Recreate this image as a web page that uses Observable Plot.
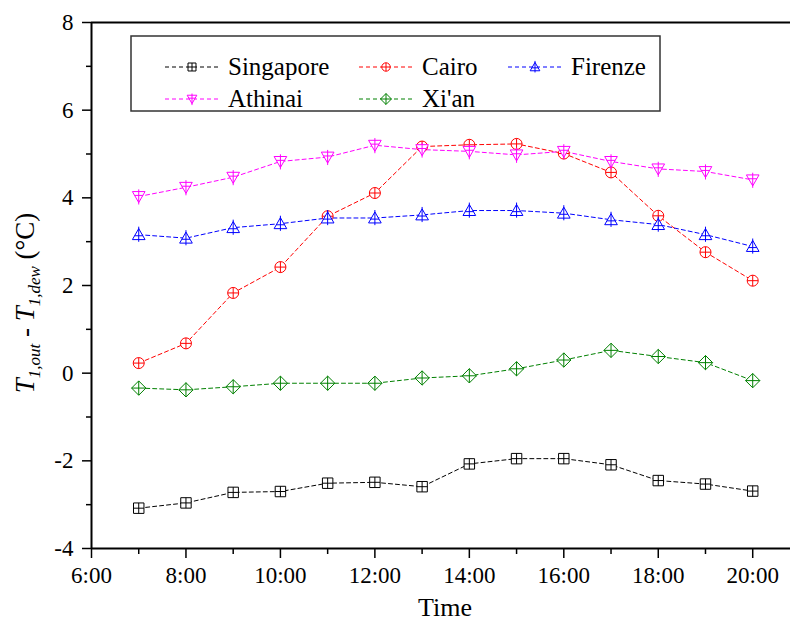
<!DOCTYPE html>
<html><head><meta charset="utf-8">
<script src="https://cdn.jsdelivr.net/npm/d3@7"></script>
<script src="https://cdn.jsdelivr.net/npm/@observablehq/plot@0.6"></script>
<style>
body{margin:0;background:#fff;}
#wrap{width:790px;height:622px;}
</style></head><body><div id="wrap"></div>
<script>
// ---- data ----
const hours = [7, 8, 9, 10, 11, 12, 13, 14, 15, 16, 17, 18, 19, 20];
const singapore = [-3.08, -2.96, -2.72, -2.70, -2.51, -2.49, -2.59, -2.07, -1.95, -1.95, -2.09, -2.45, -2.53, -2.69];
const cairo     = [0.23, 0.68, 1.83, 2.42, 3.58, 4.11, 5.17, 5.21, 5.23, 5.01, 4.58, 3.59, 2.76, 2.11];
const firenze   = [3.16, 3.08, 3.32, 3.41, 3.54, 3.54, 3.61, 3.71, 3.71, 3.65, 3.50, 3.39, 3.16, 2.89];
const athinai   = [4.03, 4.24, 4.47, 4.83, 4.93, 5.20, 5.10, 5.06, 4.98, 5.06, 4.83, 4.66, 4.60, 4.41];
const xian      = [-0.34, -0.38, -0.31, -0.23, -0.23, -0.23, -0.11, -0.06, 0.10, 0.30, 0.52, 0.38, 0.24, -0.17];
const seriesNames = ["Singapore", "Cairo", "Firenze", "Athinai", "Xi'an"];
const seriesColors = ["#000000", "#ff0000", "#0000ff", "#ff00ff", "#008000"];
const xMajorTicks = [6, 8, 10, 12, 14, 16, 18, 20];
const xMinorTicks = [7, 9, 11, 13, 15, 17, 19];
const yMajorTicks = [-4, -2, 0, 2, 4, 6, 8];
const yMinorTicks = [-3, -1, 1, 3, 5, 7];
const xDomain = [6, 20.8];
const yDomain = [-4, 8];

// ---- custom symbols ----
const R = s => Math.sqrt(s / Math.PI);
const symSquare = {draw(c, s){const r=R(s), h=r*0.95;
  c.moveTo(-h,-h);c.lineTo(h,-h);c.lineTo(h,h);c.lineTo(-h,h);c.closePath();
  c.moveTo(0,-h);c.lineTo(0,h);c.moveTo(-h,0);c.lineTo(h,0);}};
const symCircle = {draw(c, s){const r=R(s);
  c.moveTo(r,0);c.arc(0,0,r,0,2*Math.PI);c.closePath();
  c.moveTo(0,-r);c.lineTo(0,r);c.moveTo(-r,0);c.lineTo(r,0);}};
const symTriUp = {draw(c, s){const r=R(s);
  c.moveTo(0,-1.1*r);c.lineTo(1.15*r,0.9*r);c.lineTo(-1.15*r,0.9*r);c.closePath();
  c.moveTo(0,-1.45*r);c.lineTo(0,1.3*r);c.moveTo(-0.75*r,0.2*r);c.lineTo(0.75*r,0.2*r);}};
const symTriDown = {draw(c, s){const r=R(s);
  c.moveTo(0,1.1*r);c.lineTo(1.15*r,-0.9*r);c.lineTo(-1.15*r,-0.9*r);c.closePath();
  c.moveTo(0,1.45*r);c.lineTo(0,-1.3*r);c.moveTo(-0.75*r,-0.2*r);c.lineTo(0.75*r,-0.2*r);}};
const symDiamond = {draw(c, s){const r=R(s)*1.3;
  c.moveTo(0,-r);c.lineTo(r,0);c.lineTo(0,r);c.lineTo(-r,0);c.closePath();
  c.moveTo(0,-r);c.lineTo(0,r);c.moveTo(-r,0);c.lineTo(r,0);}};
const seriesSymbols = [symSquare, symCircle, symTriUp, symTriDown, symDiamond];
const seriesValues = [singapore, cairo, firenze, athinai, xian];

const series = seriesNames.map((name, i) => ({
  name, color: seriesColors[i], symbol: seriesSymbols[i],
  data: hours.map((h, j) => ({x: h, y: seriesValues[i][j]}))
}));

const font = "'Liberation Serif', 'Times New Roman', serif";
const marks = [
  Plot.axisY({ticks: yMinorTicks, tickSize: 5, strokeWidth: 1.5, tickFormat: () => "", label: null}),
  Plot.axisY({ticks: yMajorTicks, tickSize: 9, tickPadding: 9, strokeWidth: 1.5, tickFormat: d => String(d), label: null}),
  Plot.axisX({ticks: xMinorTicks, tickSize: 6, strokeWidth: 1.5, tickFormat: () => "", label: null}),
  Plot.axisX({ticks: xMajorTicks, tickSize: 10, tickPadding: 8, strokeWidth: 1.5, tickFormat: d => d + ":00", label: null}),
  Plot.ruleX([xDomain[0]], {strokeWidth: 2}),
  Plot.ruleY([yDomain[0]], {strokeWidth: 2}),
  Plot.ruleY([yDomain[1]], {strokeWidth: 2})
];
for (const s of series) {
  marks.push(Plot.line(s.data, {x: "x", y: "y", stroke: s.color, strokeWidth: 1, strokeDasharray: "4,3"}));
}
for (const s of series) {
  marks.push(Plot.dot(s.data, {x: "x", y: "y", stroke: s.color, fill: "white", strokeWidth: 1, r: 5.5, symbol: s.symbol}));
}

const chart = Plot.plot({
  width: 790, height: 622,
  marginLeft: 91, marginRight: 0, marginTop: 22, marginBottom: 74,
  x: {domain: xDomain}, y: {domain: yDomain},
  style: {fontFamily: font, fontSize: "23px", color: "#000", background: "#fff", overflow: "visible"},
  marks
});
document.getElementById("wrap").appendChild(chart);

const svg = d3.select(chart);
// y label
const yl = svg.append("text")
  .attr("transform", "translate(34,303) rotate(-90)")
  .attr("text-anchor", "middle")
  .style("font-family", font).attr("font-size", 27).attr("fill", "#000");
yl.append("tspan").attr("font-style", "italic").text("T");
yl.append("tspan").attr("font-style", "italic").attr("font-size", 17).attr("dy", 6).text("1,out");
yl.append("tspan").attr("dy", -6).text(" - ");
yl.append("tspan").attr("font-style", "italic").text("T");
yl.append("tspan").attr("font-style", "italic").attr("font-size", 17).attr("dy", 6).text("1,dew");
yl.append("tspan").attr("dy", -6).text(" (\u00B0C)");
// x label
svg.append("text").attr("x", 445).attr("y", 616).attr("text-anchor", "middle")
  .style("font-family", font).attr("font-size", 26).attr("fill", "#000").text("Time");

// legend
const lg = svg.append("g");
lg.append("rect").attr("x", 131).attr("y", 36).attr("width", 529).attr("height", 75)
  .attr("fill", "white").attr("stroke", "#333").attr("stroke-width", 1.5);
const colX = [165, 359, 508];
const rowY = [67, 99];
series.forEach((s, i) => {
  const cx = colX[i % 3], cy = rowY[Math.floor(i / 3)];
  lg.append("line").attr("x1", cx).attr("x2", cx + 53).attr("y1", cy).attr("y2", cy)
    .attr("stroke", s.color).attr("stroke-dasharray", "4,3");
  lg.append("path").attr("transform", `translate(${cx + 27},${cy})`)
    .attr("d", d3.symbol(s.symbol, Math.PI * 4.2 * 4.2)())
    .attr("fill", "white").attr("stroke", s.color);
  lg.append("text").attr("x", cx + 63).attr("y", cy + 8).attr("text-anchor", "start")
    .style("font-family", font).attr("font-size", 25).attr("fill", "#000").text(s.name);
});
</script>
</body></html>
